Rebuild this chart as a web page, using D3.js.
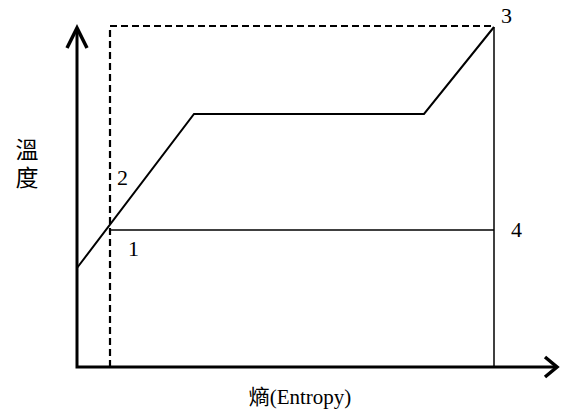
<!DOCTYPE html>
<html lang="zh-Hant">
<head>
    <meta charset="UTF-8">
    <title>T-s</title>
    <script src="https://d3js.org/d3.v7.min.js"></script>
    <style>
        html, body { margin: 0; height: 100%; overflow: hidden; background: #fff; }
    </style>
</head>
<body>
    <svg id="svg"></svg>
    <script>
        // entropy / temperature in arbitrary units
        const curveS = [0, 117, 347, 417];
        const curveT = [99, 253, 253, 340];
        const cycleS = [33, 33, 417, 417];   // dashed: 1 -> 2 -> top -> 3
        const cycleT = [0, 341, 341, 340];
        const lineS = [33, 417];              // 1 -> 4
        const lineT = [137, 137];
        const drop34S = [417, 417];           // 3 -> 4 -> axis
        const drop34T = [340, 0];
        const pointNames = ['1', '2', '3', '4'];
        const pointS = [33, 33, 417, 417];
        const pointT = [137, 137, 340, 137];

        const width = 561, height = 414;
        const svg = d3.select('#svg').attr('width', width).attr('height', height);

        const x = d3.scaleLinear().domain([0, 480]).range([77, 557]);
        const y = d3.scaleLinear().domain([0, 340]).range([367, 27]);

        const line = d3.line().x(d => x(d[0])).y(d => y(d[1]));
        const zip = (a, b) => a.map((v, i) => [v, b[i]]);

        // axes
        svg.append('path')
            .attr('d', line([[0, 338], [0, 0], [478, 0]]))
            .attr('fill', 'none').attr('stroke', '#000').attr('stroke-width', 3);
        svg.append('path')
            .attr('d', `M${x(0) - 10},${y(319)} L${x(0)},${y(339)} L${x(0) + 10},${y(319)}`)
            .attr('fill', 'none').attr('stroke', '#000').attr('stroke-width', 3.5);
        svg.append('path')
            .attr('d', `M${x(468)},${y(10)} L${x(480)},${y(0)} L${x(468)},${y(-10)}`)
            .attr('fill', 'none').attr('stroke', '#000').attr('stroke-width', 3.5);

        // dashed cycle
        svg.append('path')
            .attr('d', line(zip(cycleS, cycleT)))
            .attr('fill', 'none').attr('stroke', '#000').attr('stroke-width', 2.2)
            .attr('stroke-dasharray', '7,4');

        // saturation / heating curve
        svg.append('path')
            .attr('d', line(zip(curveS, curveT)))
            .attr('fill', 'none').attr('stroke', '#000').attr('stroke-width', 2);

        svg.append('path')
            .attr('d', line(zip(lineS, lineT)))
            .attr('fill', 'none').attr('stroke', '#000').attr('stroke-width', 1.5);
        svg.append('path')
            .attr('d', line(zip(drop34S, drop34T)))
            .attr('fill', 'none').attr('stroke', '#000').attr('stroke-width', 1.5);

        // point labels
        const offs = [[25, 26], [14, -45], [14, -4], [24, 7]];
        svg.selectAll('text.pt').data(pointNames).join('text')
            .attr('class', 'pt')
            .attr('x', (d, i) => x(pointS[i]) + offs[i][0] - 7)
            .attr('y', (d, i) => y(pointT[i]) + offs[i][1])
            .attr('font-family', 'Liberation Serif')
            .attr('font-size', 22)
            .text(d => d);

        // axis titles (vertical y title as one text)
        svg.append('text')
            .attr('x', 27).attr('y', 166)
            .attr('text-anchor', 'middle')
            .attr('writing-mode', 'vertical-rl')
            .attr('letter-spacing', 5)
            .attr('font-family', 'Noto Sans CJK TC')
            .attr('font-size', 23)
            .text('溫度');
        svg.append('text')
            .attr('x', 300).attr('y', 404)
            .attr('text-anchor', 'middle')
            .attr('font-family', 'Liberation Serif, Noto Sans CJK TC')
            .attr('font-size', 21)
            .text('熵(Entropy)');
    </script>
</body>
</html>
